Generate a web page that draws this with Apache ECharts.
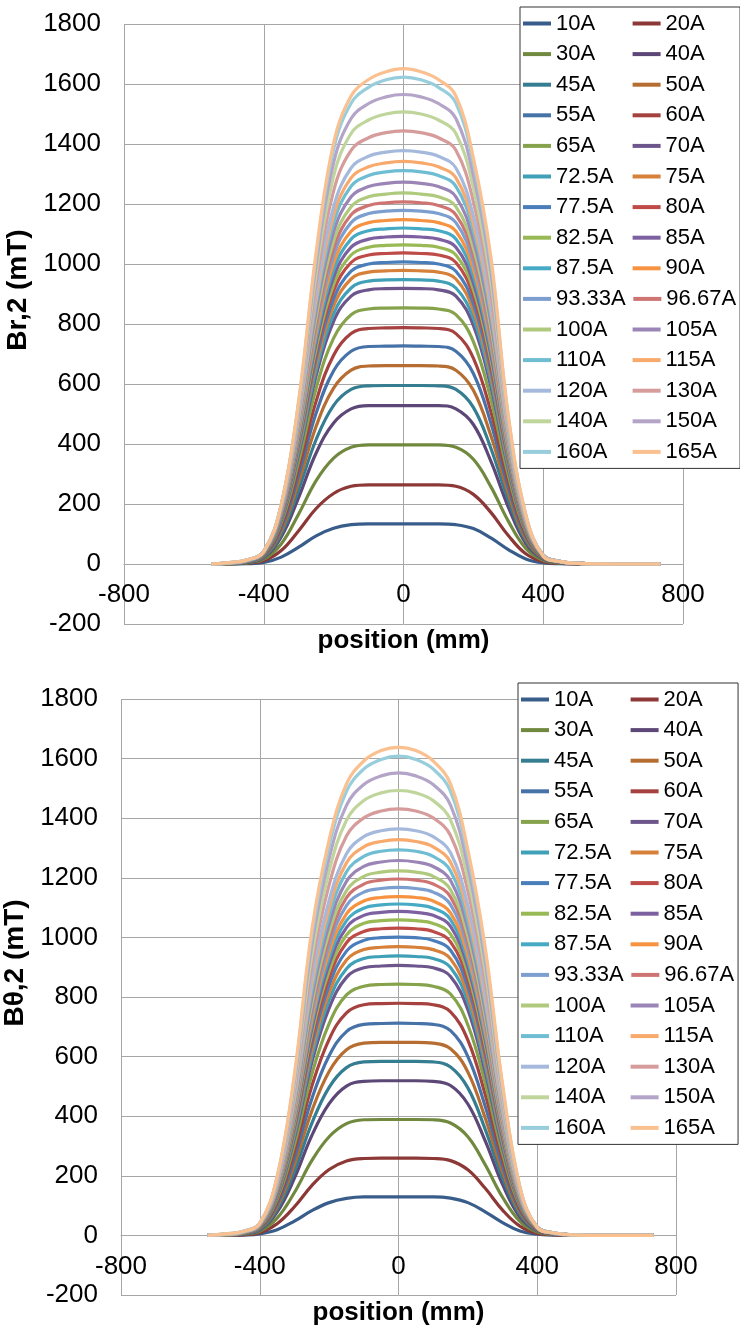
<!DOCTYPE html>
<html>
<head>
<meta charset="utf-8">
<script src="https://cdn.jsdelivr.net/npm/echarts@6/dist/echarts.min.js"></script>
<style>
  html, body { margin: 0; padding: 0; background: #fff; }
  #chart { width: 740px; height: 1331px; }
</style>
</head>
<body>
<div id="chart"></div>
<script>
// Coil currents, one curve per current
const currents = ['10A','20A','30A','40A','45A','50A','55A','60A','65A','70A',
  '72.5A','75A','77.5A','80A','82.5A','85A','87.5A','90A','93.33A','96.67A',
  '100A','105A','110A','115A','120A','130A','140A','150A','160A','165A'];

// Sample positions along the axis (mm)
const positions = [-550,-500,-450,-400,-350,-300,-250,-200,-150,-100,-50,0,
  50,100,150,200,250,300,350,400,450,500,600,735];

// Br,2 (mT) at each position, one row per current
const brField = [
  [0,0,1,5,23,56,94,119,131,134,134,134,134,134,131,118,87,48,17,4,1,0,0,0],
  [0,1,3,11,45,111,185,235,259,264,264,264,264,264,259,232,172,95,34,8,2,1,0,0],
  [0,1,4,16,67,167,278,353,389,397,397,397,397,397,389,349,258,143,52,12,3,1,0,0],
  [0,1,5,21,90,222,370,470,517,528,528,528,528,528,517,465,343,190,69,16,4,1,0,0],
  [0,1,6,23,100,248,415,529,582,594,595,595,595,594,582,522,386,213,77,18,5,1,0,0],
  [0,1,7,26,110,273,459,586,646,660,661,661,661,660,646,579,428,235,84,19,5,1,0,0],
  [0,2,7,28,119,297,503,644,709,725,726,727,726,725,709,635,470,256,92,21,6,1,0,0],
  [0,2,8,30,128,320,543,696,768,785,787,788,787,785,768,686,508,276,99,22,6,1,0,0],
  [0,2,8,32,137,343,586,753,831,850,853,854,853,850,831,741,550,297,106,23,6,2,0,0],
  [0,2,9,33,145,366,628,809,893,914,918,919,918,914,893,795,591,318,113,24,7,2,0,0],
  [0,2,9,34,149,376,646,834,920,943,947,948,947,943,920,819,609,326,116,25,7,2,0,0],
  [0,2,9,35,153,387,666,860,950,973,977,979,977,973,950,845,628,336,119,26,7,2,0,0],
  [0,2,9,36,156,396,684,884,976,1000,1005,1007,1005,1000,976,868,645,344,122,26,7,2,0,0],
  [0,2,10,37,160,406,703,910,1005,1030,1035,1037,1035,1030,1005,893,664,353,125,26,7,2,0,0],
  [0,2,10,37,163,414,719,932,1030,1056,1062,1064,1062,1056,1030,915,681,361,127,27,7,2,0,0],
  [0,3,10,38,166,423,737,956,1056,1083,1090,1092,1090,1083,1056,937,698,370,130,27,8,2,0,0],
  [0,3,10,38,169,432,754,980,1083,1111,1117,1120,1117,1111,1083,960,715,378,133,28,8,2,0,0],
  [0,3,11,39,172,441,771,1003,1109,1138,1145,1148,1145,1138,1109,983,732,386,135,28,8,2,0,0],
  [0,3,11,40,175,450,790,1029,1138,1168,1176,1179,1176,1168,1138,1007,751,394,138,28,8,2,0,0],
  [0,3,11,40,178,458,807,1052,1164,1195,1204,1207,1204,1195,1164,1030,768,402,141,29,8,2,0,0],
  [0,3,11,41,181,466,824,1077,1191,1224,1233,1237,1233,1224,1191,1053,786,410,143,29,8,2,0,0],
  [0,3,11,41,183,475,845,1107,1224,1258,1269,1273,1269,1258,1224,1081,808,419,146,29,8,2,0,0],
  [0,3,12,41,186,485,866,1137,1259,1295,1307,1311,1307,1295,1259,1110,830,428,148,29,8,2,0,0],
  [0,3,12,42,188,491,883,1162,1287,1324,1337,1342,1337,1324,1287,1133,848,435,150,29,8,2,0,0],
  [0,4,12,42,190,499,903,1191,1320,1359,1373,1378,1373,1359,1320,1160,869,443,153,29,8,2,0,0],
  [0,4,12,42,193,513,938,1244,1379,1421,1438,1444,1438,1421,1379,1208,907,457,157,29,8,2,0,0],
  [0,4,13,42,196,524,971,1293,1435,1480,1500,1507,1500,1480,1435,1254,943,470,160,28,8,2,0,0],
  [0,5,13,42,197,533,999,1338,1485,1535,1557,1565,1557,1535,1485,1295,976,481,162,28,8,2,0,0],
  [0,5,13,42,198,541,1027,1382,1536,1589,1614,1623,1614,1589,1536,1335,1008,491,164,27,8,2,0,0],
  [0,5,13,41,198,545,1040,1403,1560,1615,1641,1651,1641,1615,1560,1354,1024,495,165,26,8,2,0,0]
];

// Bθ,2 (mT) at each position, one row per current
const bthetaField = [
  [0,0,1,5,19,48,83,110,124,129,129,129,129,129,125,110,79,43,15,4,1,0,0,0],
  [0,1,2,9,39,96,167,221,250,258,259,259,259,258,251,220,158,85,31,7,2,1,0,0],
  [0,1,4,14,58,144,251,331,375,388,389,389,389,388,377,331,237,128,47,11,3,1,0,0],
  [0,1,5,18,78,192,335,442,501,517,519,519,519,517,503,441,317,171,62,15,4,1,0,0],
  [0,1,5,20,87,215,376,497,563,582,584,584,584,582,565,495,356,192,70,16,4,1,0,0],
  [0,1,6,22,96,238,417,550,623,645,648,648,648,645,626,548,394,213,77,18,4,1,0,0],
  [0,2,6,24,104,260,458,603,684,708,711,712,711,708,687,600,433,233,84,19,5,1,0,0],
  [0,2,7,26,113,283,500,658,747,774,778,779,778,774,750,655,473,255,91,20,5,1,0,0],
  [0,2,7,28,121,305,540,711,807,836,842,843,842,836,810,706,511,275,98,22,6,2,0,0],
  [0,2,8,30,129,327,580,763,866,898,904,906,904,898,869,757,548,295,104,23,6,2,0,0],
  [0,2,8,30,133,337,600,789,895,929,936,938,936,929,899,783,567,305,108,23,6,2,0,0],
  [0,2,8,31,137,348,620,814,924,959,967,969,967,959,928,807,586,314,111,24,6,2,0,0],
  [0,2,9,32,141,358,640,840,954,990,999,1001,999,990,957,833,605,324,114,24,6,2,0,0],
  [0,2,9,33,145,368,658,865,982,1020,1029,1031,1029,1020,985,857,622,334,117,25,7,2,0,0],
  [0,2,9,33,148,377,676,887,1008,1047,1056,1059,1056,1047,1011,879,639,342,120,25,7,2,0,0],
  [0,3,9,34,151,387,693,910,1033,1074,1084,1087,1084,1074,1037,900,655,351,123,26,7,2,0,0],
  [0,3,10,35,154,395,709,930,1056,1098,1109,1112,1109,1098,1060,920,670,359,125,26,7,2,0,0],
  [0,3,10,35,157,402,724,950,1079,1122,1134,1137,1134,1122,1082,939,684,366,127,26,7,2,0,0],
  [0,3,10,36,160,412,743,974,1107,1152,1164,1168,1164,1152,1110,963,702,375,130,27,7,2,0,0],
  [0,3,10,36,163,421,761,996,1133,1179,1192,1196,1192,1179,1136,984,719,384,133,27,7,2,0,0],
  [0,3,10,37,166,429,777,1017,1157,1205,1219,1223,1219,1205,1160,1004,734,392,135,27,7,2,0,0],
  [0,3,11,37,169,439,798,1044,1188,1238,1253,1258,1253,1238,1191,1030,754,402,138,27,7,2,0,0],
  [0,3,11,38,172,450,820,1072,1220,1272,1289,1294,1289,1272,1223,1056,775,413,141,28,8,2,0,0],
  [0,3,11,39,175,459,841,1098,1250,1304,1322,1328,1322,1304,1252,1081,794,422,143,28,8,2,0,0],
  [0,4,11,39,178,470,862,1125,1281,1338,1358,1364,1358,1338,1284,1107,815,433,146,28,8,2,0,0],
  [0,4,12,40,184,488,902,1176,1340,1401,1424,1431,1424,1401,1342,1155,852,452,151,28,8,2,0,0],
  [0,4,12,40,188,505,939,1222,1393,1459,1485,1493,1485,1459,1394,1197,887,469,155,27,8,2,0,0],
  [0,4,13,41,192,520,974,1265,1443,1513,1542,1552,1542,1513,1444,1237,919,485,159,27,8,2,0,0],
  [0,5,13,41,195,533,1006,1305,1490,1565,1597,1608,1597,1565,1490,1274,950,500,162,26,8,2,0,0],
  [0,5,13,41,197,541,1024,1327,1515,1592,1627,1638,1627,1592,1515,1294,966,508,164,26,8,2,0,0]
];

// Line colours, dark to light shades of the six theme hues
const lineColors = [
  '#385D8A','#8C3836','#71893F','#5C4776','#357D91','#B66D31',
  '#4672A8','#A5423F','#86A34B','#6D568C','#3FA0B7','#D7803A',
  '#4A7EBB','#BE4B48','#98B954','#7D60A0','#46AAC5','#F69240',
  '#7C9FCF','#CE7472','#AFC97D','#9A85B6','#6FBDD2','#F8A96C',
  '#A5B9DD','#D69C9B','#BFD59C','#B3A4C8','#98CDDC','#FAC090'
];

const FONT = '"Liberation Sans", Arial, sans-serif';
const gridColor = '#a6a6a6';
const plainNumber = (v) => String(v);

// The x axis crosses at 0 mT: shift it up from the bottom edge by one 200 mT step
function makeXAxis(gridIndex, shift) {
  return {
    type: 'value', gridIndex, min: -800, max: 800, interval: 400,
    position: 'bottom', offset: -shift,
    name: 'position (mm)', nameLocation: 'middle', nameGap: 64,
    nameTextStyle: { fontFamily: FONT, fontSize: 26, fontWeight: 'bold', color: '#000' },
    axisLine: { show: true, onZero: false, lineStyle: { color: gridColor, width: 1 } },
    axisTick: { show: false },
    axisLabel: { fontFamily: FONT, fontSize: 26, color: '#000', margin: 18, formatter: plainNumber },
    splitLine: { show: true, lineStyle: { color: gridColor, width: 1 } }
  };
}

function makeYAxis(gridIndex, title) {
  return {
    type: 'value', gridIndex, min: -200, max: 1800, interval: 200,
    name: title, nameLocation: 'middle', nameGap: 85,
    nameTextStyle: { fontFamily: FONT, fontSize: 28, fontWeight: 'bold', color: '#000',
      padding: [0, 0, 0, 68] },
    axisLine: { show: false },
    axisTick: { show: false },
    axisLabel: { fontFamily: FONT, fontSize: 26, color: '#000', margin: 23, formatter: plainNumber },
    splitLine: { show: true, lineStyle: { color: gridColor, width: 1 } }
  };
}

function makeLegend(left, top) {
  return {
    data: currents,
    left, top,
    orient: 'horizontal',
    width: 215,
    padding: [5, 4, 5, 3],
    itemWidth: 28, itemHeight: 4, itemGap: 7.6,
    icon: 'rect',
    backgroundColor: '#fff',
    borderColor: '#333', borderWidth: 1,
    selectedMode: false,
    textStyle: { fontFamily: FONT, fontSize: 22, color: '#000', lineHeight: 23,
      width: 69, overflow: 'none' }
  };
}

const series = [];
[brField, bthetaField].forEach((field, panel) => {
  field.forEach((row, i) => {
    series.push({
      name: currents[i],
      type: 'line',
      xAxisIndex: panel, yAxisIndex: panel,
      data: row.map((v, k) => [positions[k], v]),
      showSymbol: false,
      smooth: 0.4,
      color: lineColors[i],
      lineStyle: { width: 3.2, color: lineColors[i] },
      silent: true
    });
  });
});

const chart = echarts.init(document.getElementById('chart'), null, { renderer: 'canvas' });
chart.setOption({
  animation: false,
  backgroundColor: '#fff',
  grid: [
    { left: 124, right: 57, top: 24, height: 600, containLabel: false, outerBoundsMode: 'none' },
    { left: 121, right: 64, top: 699, height: 596, containLabel: false, outerBoundsMode: 'none' }
  ],
  xAxis: [makeXAxis(0, 60), makeXAxis(1, 59.6)],
  yAxis: [makeYAxis(0, 'Br,2 (mT)'), makeYAxis(1, 'Bθ,2 (mT)')],
  legend: [makeLegend(520, 7), makeLegend(518, 683)],
  series
});
</script>
</body>
</html>
